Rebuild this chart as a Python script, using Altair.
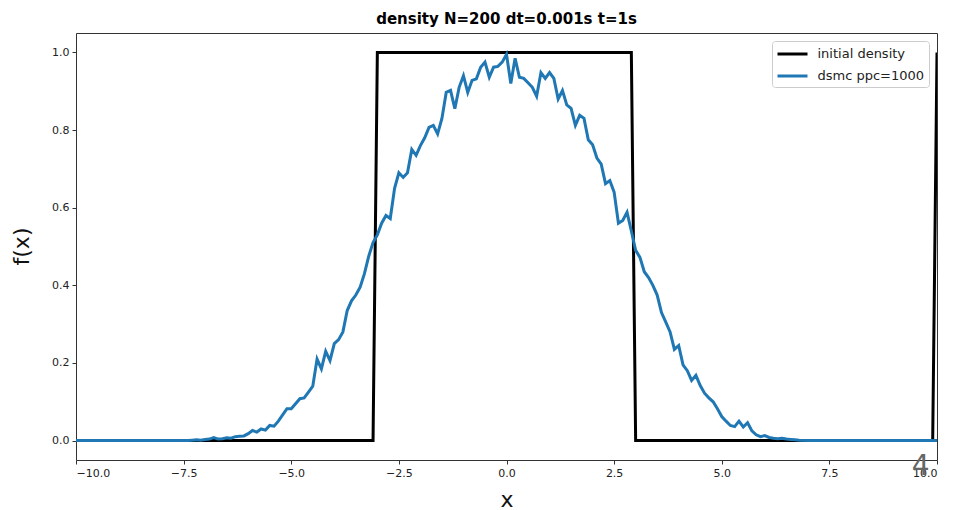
import altair as alt
import pandas as pd

# ---- data ----
series_names = ["initial density", "dsmc ppc=1000"]
series_colors = ["#000000", "#1f77b4"]

init_x = [-10.0, -3.1, -3.0, 2.9, 3.0, 9.9, 10.0]
init_y = [0.0, 0.0, 1.0, 1.0, 0.0, 0.0, 1.0]

dsmc_start = -7.5
dsmc_step = 0.1
dsmc_y = [
    0.0, 0.0, 0.001, 0.002, 0.001, 0.003, 0.004, 0.008, 0.004, 0.005,
    0.007, 0.006, 0.010, 0.011, 0.012, 0.018, 0.026, 0.022, 0.030, 0.027,
    0.039, 0.037, 0.050, 0.066, 0.082, 0.082, 0.095, 0.108, 0.110, 0.125,
    0.140, 0.210, 0.185, 0.230, 0.206, 0.250, 0.260, 0.280, 0.335, 0.360,
    0.375, 0.395, 0.430, 0.475, 0.510, 0.530, 0.560, 0.580, 0.572, 0.650,
    0.690, 0.678, 0.690, 0.750, 0.735, 0.760, 0.780, 0.807, 0.812, 0.790,
    0.830, 0.897, 0.902, 0.855, 0.910, 0.940, 0.897, 0.928, 0.932, 0.962,
    0.975, 0.936, 0.962, 0.964, 0.975, 0.995, 0.920, 0.985, 0.936, 0.933,
    0.922, 0.910, 0.887, 0.948, 0.933, 0.948, 0.933, 0.880, 0.902, 0.865,
    0.856, 0.812, 0.838, 0.830, 0.775, 0.762, 0.728, 0.712, 0.662, 0.670,
    0.640, 0.560, 0.567, 0.588, 0.540, 0.490, 0.472, 0.435, 0.420, 0.400,
    0.375, 0.330, 0.305, 0.280, 0.235, 0.245, 0.195, 0.180, 0.155, 0.168,
    0.142, 0.122, 0.110, 0.100, 0.082, 0.062, 0.050, 0.039, 0.036, 0.050,
    0.035, 0.046, 0.025, 0.015, 0.010, 0.013, 0.008, 0.006, 0.005, 0.006,
    0.004, 0.003, 0.002, 0.001,
]
tail_x_left = [-10.0]
tail_y_left = [0.0]
tail_x_right = [7.0, 10.0]
tail_y_right = [0.0, 0.0]

x_ticks = [-10.0, -7.5, -5.0, -2.5, 0.0, 2.5, 5.0, 7.5, 10.0]
y_ticks = [0.0, 0.2, 0.4, 0.6, 0.8, 1.0]

stray_text = ["4"]
stray_x = [9.62]
stray_y = [-0.068]

# ---- tables ----
dsmc_x = tail_x_left + [round(dsmc_start + dsmc_step * i, 1) for i in range(len(dsmc_y))] + tail_x_right
dsmc_vals = tail_y_left + dsmc_y + tail_y_right

df_init = pd.DataFrame({"x": init_x, "f": init_y, "series": series_names[0]})
df_dsmc = pd.DataFrame({"x": dsmc_x, "f": dsmc_vals, "series": series_names[1]})
df_text = pd.DataFrame({"x": stray_x, "f": stray_y, "t": stray_text})

FONT = "DejaVu Sans"
FRAME = "#333333"

xscale = alt.Scale(domain=[-10, 10], nice=False, zero=False)
yscale = alt.Scale(domain=[-0.05, 1.05], nice=False, zero=False)

xenc = alt.X(
    "x:Q", scale=xscale,
    axis=alt.Axis(values=x_ticks, format=".1f", title="x",
                  titleY=46, titleBaseline="alphabetic", labelOverlap=False)
)
yenc = alt.Y(
    "f:Q", scale=yscale,
    axis=alt.Axis(values=y_ticks, format=".1f", title="f(x)",
                  titleX=-48, titleY=213, titleAngle=-90,
                  titleBaseline="alphabetic", titleAlign="center")
)
xnone = alt.X("x:Q", scale=xscale, axis=None)
ynone = alt.Y("f:Q", scale=yscale, axis=None)

color = alt.Color(
    "series:N",
    scale=alt.Scale(domain=series_names, range=series_colors),
    legend=alt.Legend(
        title=None, orient="none", legendX=696, legendY=8,
        symbolType="M-2,0H2", symbolStrokeWidth=3, symbolSize=225,
        symbolOffset=7.5,
        labelFont=FONT, labelFontSize=13, labelColor="#222",
        padding=4, rowPadding=6, labelOffset=16,
        fillColor="white", strokeColor="#cccccc", cornerRadius=3,
    ),
)

line_init = alt.Chart(df_init).mark_line(strokeWidth=3, clip=True).encode(
    x=xenc, y=yenc, color=color
)
line_dsmc = alt.Chart(df_dsmc).mark_line(strokeWidth=3, clip=True).encode(
    x=xnone, y=ynone, color=color
)
txt = alt.Chart(df_text).mark_text(
    font=FONT, fontSize=28, color="#666666", baseline="middle", align="center"
).encode(x=xnone, y=ynone, text="t:N")

# frame: top and right spines (no ticks/labels), like a matplotlib box
frame = alt.Chart(df_init).mark_line(opacity=0).encode(
    x=alt.X("x:Q", scale=xscale,
            axis=alt.Axis(orient="top", labels=False, ticks=False, title=None,
                          domainColor=FRAME, grid=False)),
    y=alt.Y("f:Q", scale=yscale,
            axis=alt.Axis(orient="right", labels=False, ticks=False, title=None,
                          domainColor=FRAME, grid=False)),
)

chart = alt.layer(line_init, line_dsmc, txt, frame).resolve_axis(
    x="independent", y="independent"
).properties(
    width=861, height=427,
    title=alt.TitleParams(
        "density N=200 dt=0.001s t=1s", font=FONT, fontSize=15,
        fontWeight="bold", color="#000", offset=6, anchor="middle"
    ),
    padding={"left": 76, "top": 33, "right": 18, "bottom": 50},
    autosize="none",
).configure_view(
    stroke=None
).configure_axis(
    labelFont=FONT, labelFontSize=11, labelColor="#222222",
    tickColor=FRAME, tickSize=4, labelPadding=3,
    domainColor=FRAME, grid=False,
    titleFont=FONT, titleFontSize=22, titleFontWeight="normal", titleColor="#111111",
)

chart.save("out.html", embed_options={"renderer": "svg", "actions": False})
